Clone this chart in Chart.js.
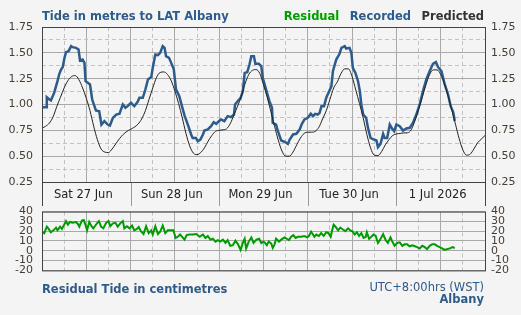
<!DOCTYPE html>
<html><head><meta charset="utf-8">
<script src="https://cdn.jsdelivr.net/npm/chart.js@4.4.1/dist/chart.umd.min.js"></script>
<style>
html,body{margin:0;padding:0;background:#f4f4f4;width:521px;height:315px;overflow:hidden;font-family:'DejaVu Sans',Verdana,sans-serif;}
#top{position:absolute;left:0;top:0;}
#bot{position:absolute;left:0;top:196px;}
.t{position:absolute;font-size:11.5px;line-height:14px;white-space:nowrap;}
.b{font-weight:bold;}
.blue{color:#2c5b8c;}
</style></head><body>
<canvas id="top" width="521" height="206"></canvas>
<canvas id="bot" width="521" height="90"></canvas>
<div class="t b blue" style="left:42px;top:9px;">Tide in metres to LAT Albany</div>
<div class="t b" style="right:37px;top:9px;"><span style="color:#009a00">Residual</span><span class="blue" style="margin-left:10.5px">Recorded</span><span style="color:#333;margin-left:10.5px">Predicted</span></div>
<div class="t b blue" style="left:42px;top:282px;">Residual Tide in centimetres</div>
<div class="t blue" style="right:37px;top:279.5px;">UTC+8:00hrs (WST)</div>
<div class="t b blue" style="right:37px;top:292px;">Albany</div>
<script>
// Hours from Sat 27 Jun 00:00 (local)
const dayLabels = ['Sat 27 Jun', 'Sun 28 Jun', 'Mon 29 Jun', 'Tue 30 Jun', '1 Jul 2026'];

// Predicted tide (m), hourly from t=0 to t=120
const predicted = [
  0.77,0.79,0.82,0.88,0.98,1.07,1.16,1.23,1.27,1.28,1.24,1.16,1.06,0.94,0.79,0.66,0.57,0.54,0.535,0.57,0.62,0.67,0.71,0.74,
  0.76,0.78,0.81,0.86,0.94,1.05,1.16,1.26,1.31,1.315,1.29,1.23,1.13,1.01,0.87,0.72,0.60,0.53,0.515,0.535,0.58,0.645,0.70,0.74,
  0.75,0.755,0.765,0.815,0.90,0.985,1.08,1.20,1.29,1.33,1.338,1.30,1.19,1.07,0.93,0.79,0.655,0.55,0.50,0.50,0.54,0.61,0.675,0.72,
  0.732,0.732,0.74,0.78,0.86,0.94,1.05,1.16,1.22,1.30,1.345,1.345,1.27,1.14,1.01,0.87,0.71,0.58,0.51,0.505,0.545,0.61,0.66,0.70,
  0.715,0.72,0.725,0.726,0.755,0.84,0.95,1.07,1.19,1.29,1.335,1.335,1.29,1.20,1.08,0.95,0.81,0.67,0.56,0.51,0.52,0.57,0.63,0.665,0.70
];

// Recorded tide (m): time (h) and level
const recordedTime = [
  0,1.1,1.3,2.0,2.4,2.9,3.3,3.8,4.2,4.7,5.2,5.6,6.1,6.5,7.2,7.9,8.3,9.2,9.9,10.3,11.0,11.5,11.8,12.4,13.0,13.6,14.2,14.6,15.5,16.1,
  16.9,17.8,18.4,19.2,20.1,21.0,21.4,21.9,22.6,23.2,24.1,25.0,25.9,26.4,27.3,28.0,28.7,29.6,30.0,30.7,31.4,32.0,32.7,33.2,33.6,34.4,
  35.0,35.7,36.3,37.2,37.9,38.6,39.5,40.4,40.8,41.7,42.2,42.9,43.6,44.0,44.9,45.8,46.5,47.2,47.9,48.5,49.4,50.3,51.2,52.0,52.3,53.0,
  53.8,54.4,54.9,55.6,56.2,56.7,57.4,57.8,58.7,59.4,59.8,60.7,61.6,62.3,62.5,63.4,63.9,64.8,65.7,66.6,67.1,68.0,68.9,69.8,70.4,71.1,
  72.0,72.8,73.4,74.0,74.7,75.2,75.7,76.4,77.0,77.6,78.4,78.8,79.7,80.6,81.1,82.0,82.4,83.3,83.8,84.2,84.9,85.6,86.1,86.5,87.0,87.8,
  88.3,89.0,89.9,90.6,91.0,91.7,92.4,92.8,93.5,94.2,94.8,95.4,96.0,96.9,97.8,98.7,99.6,100.5,101.4,102.3,103.2,104.1,105.0,105.9,
  106.7,107.3,108.2,109.1,110.0,110.7,111.4,111.8
];
const recordedLevel = [
  0.974,0.974,1.07,1.048,1.04,1.08,1.113,1.177,1.226,1.297,1.34,1.361,1.452,1.506,1.516,1.565,1.555,1.548,1.532,1.426,1.435,1.403,1.226,1.21,1.194,1.048,0.984,0.942,0.935,0.806,
  0.839,0.806,0.797,0.871,0.903,0.91,0.952,1.0,0.968,0.984,1.016,0.984,1.026,1.065,1.065,1.145,1.242,1.265,1.355,1.484,1.477,1.5,1.565,1.548,1.468,1.452,
  1.403,1.34,1.145,1.08,0.984,0.895,0.806,0.71,0.677,0.677,0.645,0.661,0.71,0.748,0.758,0.79,0.829,0.813,0.839,0.855,0.839,0.887,0.877,0.903,1.0,1.032,
  1.065,1.129,1.306,1.313,1.387,1.468,1.468,1.394,1.394,1.371,1.258,1.145,1.032,0.968,0.823,0.806,0.742,0.652,0.639,0.619,0.661,0.71,0.716,0.758,0.813,0.855,
  0.871,0.91,0.887,0.91,0.903,0.919,0.984,0.984,1.065,1.113,1.177,1.323,1.435,1.49,1.548,1.565,1.542,1.548,1.5,1.355,1.306,1.226,1.129,1.0,0.903,0.871,
  0.774,0.677,0.661,0.652,0.587,0.619,0.716,0.677,0.677,0.806,0.768,0.742,0.806,0.79,0.748,0.768,0.774,0.823,0.903,1.0,1.129,1.242,1.323,1.394,
  1.41,1.361,1.323,1.194,1.097,0.984,0.925,0.84
];

// Residual (cm): time (h) and value
const residualTime = [
  0,0.6,1.3,1.8,2.4,3.1,3.8,4.2,4.9,5.4,6.1,6.5,7.0,7.6,8.3,9.2,9.7,10.1,10.8,11.3,11.7,12.2,12.8,13.5,13.9,14.6,15.4,16.0,16.6,17.4,
  18.0,18.5,19.2,19.9,20.5,21.2,21.9,22.3,23.0,23.7,24.4,25.0,25.7,26.2,26.8,27.5,28.2,28.9,29.6,30.0,30.7,31.4,32.0,32.7,33.4,34.1,
  35.0,35.6,36.2,36.8,37.4,38.2,38.6,39.2,39.9,40.9,41.8,42.7,43.6,44.3,44.9,45.6,46.3,47.0,47.6,48.3,49.0,49.7,50.3,51.0,51.7,52.4,
  53.1,53.8,54.4,54.9,55.3,56.0,56.7,57.3,58.1,58.8,59.4,60.0,60.3,60.9,61.4,62.1,62.5,63.0,63.4,64.2,64.8,65.7,66.3,66.9,67.5,68.1,
  68.7,69.3,70.2,71.1,71.8,72.3,72.9,73.4,73.8,74.3,75.0,75.6,76.3,77.0,77.6,78.2,78.6,79.0,79.5,80.2,80.8,81.5,82.2,82.9,83.5,84.1,
  84.7,85.3,85.9,86.5,87.1,87.7,88.0,88.6,89.2,89.8,90.4,91.0,91.6,92.4,93.1,93.7,94.4,94.9,95.5,96.2,96.9,97.6,98.2,98.9,99.6,100.3,
  101.0,101.6,102.3,103.0,103.7,104.3,105.0,105.7,106.4,107.0,107.7,108.5,109.1,109.7,110.4,111.2,111.8
];
const residualCm = [
  19.4,18,24.6,22.3,18.9,20.9,23.7,20.9,24.6,22.3,27.4,30.3,26.6,29.4,28.6,29.4,27.4,24.6,30.9,31.4,27.4,20.9,29.4,24.6,22.9,26.6,30.3,24.6,22.9,28.6,
  30.3,25.1,28,28.6,24.6,28,30.3,22.9,25.1,22.9,25.7,20.9,22.3,24.3,20,17.1,25.1,18,20.9,16.6,25.1,17.1,19.4,25.7,18,20.9,
  20.9,20.9,13.1,14.3,16.6,13.1,11.4,16,16.6,16.6,17.1,14.3,16.6,13.1,15.1,11.4,12.3,9.4,10.9,9.4,11.4,8,10.9,5.1,5.7,10.3,
  6.6,0.9,8,12.3,2.3,9.4,13.7,8,11.4,12.3,8,9.4,8.6,5.7,9.4,7.4,2.9,6.6,12.3,9.4,11.4,13.7,12.3,10.9,14.3,16,
  13.1,14.3,14.3,15.1,13.7,15.1,19.4,16.6,14.3,16.6,15.1,18,15.1,18.9,18,14.3,20.9,26.6,24.6,20.9,23.7,21.7,20,22.9,20.9,20,
  16.6,18.9,15.1,18,13.1,14.3,18.9,12.3,14.3,16.6,15.1,8,11.4,17.1,10.9,8,13.7,9.4,5.1,8,8.6,5.1,6.6,6.6,4.6,5.7,
  4.6,3.7,2.3,5.1,3.7,1.7,5.1,6.6,6.6,5.1,3.7,2.3,0.9,1.7,2.3,3.7,2.9
];

Chart.defaults.font.family = "'DejaVu Sans', Verdana, sans-serif";
Chart.defaults.animation = false;

const GRID = '#a9a9a9';
const DASH = '#c2c2c2';
const TICKC = '#463d35';
const FRAME = '#444444';

const framePlugin = {
  id: 'frame',
  afterDraw(chart, args, opts) {
    const ctx = chart.ctx, a = chart.chartArea;
    ctx.save();
    ctx.lineWidth = 1;
    if (opts.band) {
      const xs = chart.scales.x;
      ctx.strokeStyle = '#9a9a9a';
      for (const t of opts.band) {
        const px = Math.round(xs.getPixelForValue(t)) + 0.5;
        ctx.beginPath(); ctx.moveTo(px, a.bottom); ctx.lineTo(px, chart.height); ctx.stroke();
      }
      ctx.strokeStyle = FRAME;
      for (const px of [a.left + 0.5, a.right + 0.5]) {
        ctx.beginPath(); ctx.moveTo(px, a.bottom); ctx.lineTo(px, chart.height); ctx.stroke();
      }
    }
    ctx.strokeStyle = FRAME;
    ctx.strokeRect(a.left + 0.5, a.top + 0.5, a.right - a.left, a.bottom - a.top);
    ctx.restore();
  }
};

function dashedAxis(pos, min, max, step, horiz) {
  return {
    type: 'linear', position: pos, min: min, max: max,
    ticks: { stepSize: step, display: false, autoSkip: false },
    grid: { color: c => (c.index % 2 === 1 ? DASH : 'rgba(0,0,0,0)'), drawTicks: false, lineWidth: 1 },
    border: { display: false, dash: [4, 3] },
    afterFit: s => { if (horiz) s.height = 0; else s.width = 0; }
  };
}
function valueAxis(pos, min, max, step, digits, onArea, pad, w) {
  return {
    type: 'linear', position: pos, min: min, max: max,
    ticks: { stepSize: step, autoSkip: false, padding: pad, color: TICKC, font: { size: 11 },
             callback: v => Number(v).toFixed(digits) },
    grid: { color: GRID, drawTicks: false, drawOnChartArea: onArea },
    border: { display: false },
    afterFit: s => { s.width = w; }
  };
}

new Chart(document.getElementById('top'), {
  type: 'line',
  data: {
    datasets: [
      { label: 'Predicted', data: predicted.map((v, i) => ({ x: i, y: v })), borderColor: '#222222', borderWidth: 1,
        pointRadius: 0, cubicInterpolationMode: 'monotone', xAxisID: 'x', yAxisID: 'y' },
      { label: 'Recorded', data: recordedTime.map((t, i) => ({ x: t, y: recordedLevel[i] })), borderColor: '#2c5b8c',
        borderWidth: 2.5, pointRadius: 0, tension: 0, xAxisID: 'x', yAxisID: 'y' }
    ]
  },
  options: {
    responsive: false, devicePixelRatio: 1,
    layout: { padding: { top: 27, left: 0, right: 0, bottom: 0 } },
    plugins: { legend: { display: false }, tooltip: { enabled: false }, frame: { band: [24, 48, 72, 96] } },
    scales: {
      x: {
        type: 'linear', position: 'bottom', min: 0, max: 120,
        ticks: { stepSize: 12, autoSkip: false, maxRotation: 0, minRotation: 0, padding: 6, labelOffset: -3,
                 color: '#222222', font: { size: 11.5 },
                 callback: v => ((v - 12) % 24 === 0 ? dayLabels[(v - 12) / 24] : '') },
        grid: { color: GRID, drawTicks: false },
        border: { display: false },
        afterFit: s => { s.height = 24; }
      },
      x2: dashedAxis('bottom', 0, 120, 6, true),
      y: valueAxis('left', 0.25, 1.75, 0.25, 2, true, 9, 42),
      y2: dashedAxis('left', 0.25, 1.75, 0.125, false),
      yR: valueAxis('right', 0.25, 1.75, 0.25, 2, false, 6, 36)
    }
  },
  plugins: [framePlugin]
});

new Chart(document.getElementById('bot'), {
  type: 'line',
  data: {
    datasets: [
      { label: 'Residual', data: residualTime.map((t, i) => ({ x: t, y: residualCm[i] })), borderColor: '#009a00',
        borderWidth: 2, pointRadius: 0, tension: 0, xAxisID: 'x', yAxisID: 'y' }
    ]
  },
  options: {
    responsive: false, devicePixelRatio: 1,
    layout: { padding: { top: 10, left: 0, right: 0, bottom: 10 } },
    plugins: { legend: { display: false }, tooltip: { enabled: false } },
    scales: {
      x: {
        type: 'linear', position: 'bottom', min: 0, max: 120,
        ticks: { stepSize: 12, display: false, autoSkip: false },
        grid: { color: GRID, drawTicks: false },
        border: { display: false },
        afterFit: s => { s.height = 0; }
      },
      x2: dashedAxis('bottom', 0, 120, 6, true),
      y: valueAxis('left', -20, 40, 10, 0, true, 9, 42),
      yR: valueAxis('right', -20, 40, 10, 0, false, 6, 36)
    }
  },
  plugins: [framePlugin]
});
</script>
</body></html>
